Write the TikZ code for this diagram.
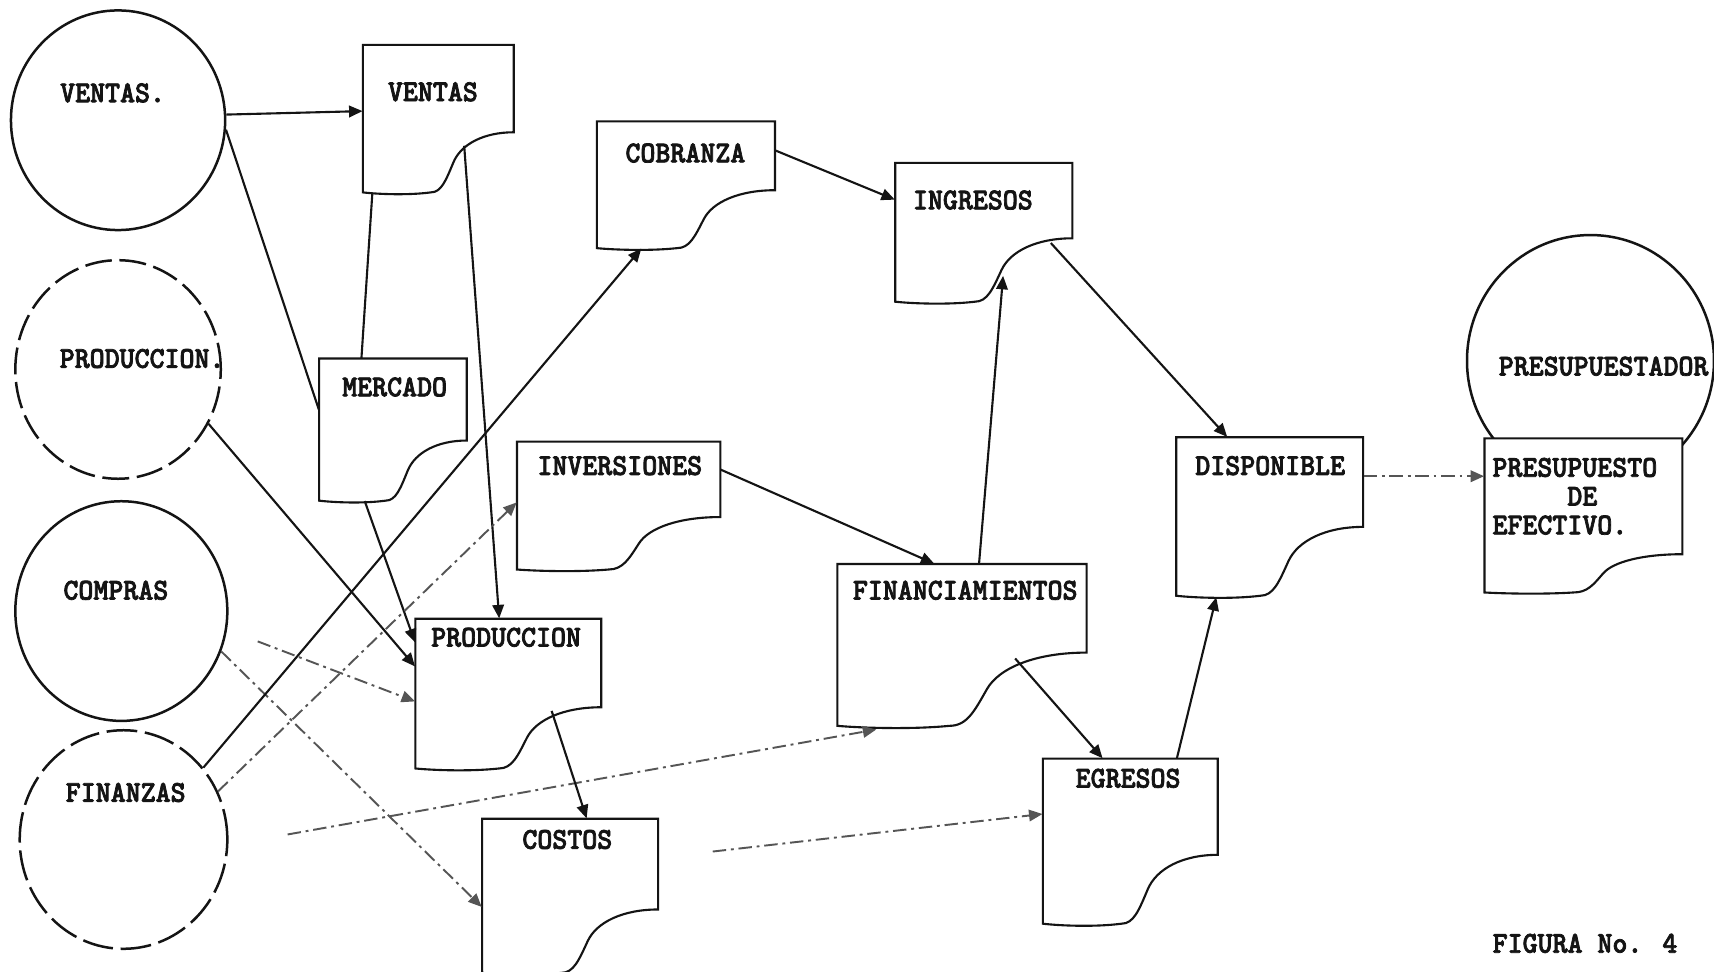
\documentclass[tikz,border=0pt]{standalone}
\usepackage{fontspec}
\newfontfamily\twfont{lmmonolt10-bold.otf}[FakeBold=2.4, FakeStretch=0.94]
\usepackage{tikz}
\usetikzlibrary{shapes.geometric, arrows.meta, positioning, calc, fit}
\definecolor{ink}{RGB}{20,20,20}
\definecolor{faint}{RGB}{85,85,85}
\tikzset{
  unit/.style={ellipse, draw=ink, line width=1.3pt, inner sep=0pt},
  docbox/.style={inner sep=0pt, draw=none},
  docline/.style={draw=ink, line width=1.1pt, fill=white},
  lbl/.style={font=\twfont\fontsize{15.8}{15}\selectfont, text=ink, inner sep=0pt},
  fa/.style={-{Triangle[length=7pt, width=6pt]}, line width=1.1pt, color=ink},
  la/.style={line width=1.1pt, color=ink},
  da/.style={-{Triangle[length=7pt, width=6pt]}, line width=1pt, color=faint,
    dash pattern=on 7pt off 2.5pt on 1.5pt off 2.5pt},
}
% document symbol: name, left, top, right, right-bottom, bottom
\newcommand{\docu}[6]{%
  \draw[docline] (#2,#6) -- (#2,#3) -- (#4,#3) -- (#4,#5)
    .. controls ({#2+0.8*(#4-#2)},#5) and ({#2+0.65*(#4-#2)},{#5+0.2*(#6-#5)}) ..
    ({#2+0.6*(#4-#2)},{#5+0.5*(#6-#5)})
    .. controls ({#2+0.55*(#4-#2)},{#5+0.8*(#6-#5)}) and ({#2+0.52*(#4-#2)},#6) ..
    ({#2+0.45*(#4-#2)},#6)
    .. controls ({#2+0.3*(#4-#2)},{#6+0.05*(#6-#5)}) and ({#2+0.1*(#4-#2)},{#6+0.03*(#6-#5)}) ..
    (#2,#6) -- cycle;
  \node[docbox, fit={(#2,#3) (#4,#6)}] (#1) {};
}

\begin{document}
\begin{tikzpicture}[x=0.02cm, y=-0.02cm]
  \fill[white] (0,0) rectangle (1568,889);
  \useasboundingbox (0,0) rectangle (1568,889);

  % areas
  \node[unit, minimum width=3.92cm, minimum height=4.02cm] (cven) at (108,110) {};
  \node[unit, minimum width=3.76cm, minimum height=4.0cm, dash pattern=on 14pt off 4pt] (cprod) at (108,338) {};
  \node[unit, minimum width=3.88cm, minimum height=4.02cm] (ccomp) at (111,559) {};
  \node[unit, minimum width=3.8cm, minimum height=4.0cm, dash pattern=on 16pt off 4pt] (cfin) at (113,768) {};
  \node[unit, minimum width=4.52cm, minimum height=4.6cm] (cpre) at (1455,330) {};

  % documents
  \docu{dven}{332}{41}{470}{121}{176}
  \docu{dmer}{292}{328}{427}{403}{458}
  \docu{dcob}{546}{111}{709}{174}{227}
  \docu{ding}{819}{149}{981}{218}{276}
  \docu{dinv}{473}{404}{659}{473}{521}
  \docu{dpro}{380}{566}{550}{647}{703}
  \docu{dfin}{766}{516}{994}{597}{664}
  \docu{dcos}{441}{749}{602}{832}{890}
  \docu{degr}{954}{694}{1114}{782}{845}
  \docu{ddis}{1076}{400}{1247}{482}{545}
  \docu{dpre}{1358}{401}{1539}{507}{542}

  % flows
  \draw[fa] (cven.3) -- ($(dven.north west)+(0,61)$);
  \draw[la] (cven.-5) -- ($(dmer.north west)+(0,47)$);
  \draw[la] ($(dven.south west)+(9,0)$) -- ($(dmer.north west)+(39,0)$);
  \draw[fa] ($(dven.south west)+(93,-43)$) -- ($(dpro.north west)+(77,0)$);
  \draw[fa] ($(dmer.south west)+(42,0)$) -- ($(dpro.north west)+(0,22)$);
  \draw[fa] (cprod.-31) -- ($(dpro.north west)+(0,44)$);
  \draw[da, shorten <=0.6cm] (ccomp.-10) -- ($(dpro.north west)+(0,76)$);
  \draw[da] (ccomp.-22) -- ($(dcos.north west)+(0,81)$);
  \draw[fa] (cfin.42) -- ($(dcob.south west)+(41,0)$);
  \draw[da] (cfin.27) -- ($(dinv.north west)+(0,56)$);
  \draw[da, shorten <=1.1cm] (cfin.-3) -- ($(dfin.south west)+(36,3)$);
  \draw[fa] ($(dcob.north east)+(0,27)$) -- ($(ding.north west)+(0,34)$);
  \draw[fa] ($(dfin.north west)+(130,0)$) -- ($(ding.south west)+(99,-24)$);
  \draw[fa] ($(ding.south east)+(-20,-54)$) -- ($(ddis.north west)+(47,0)$);
  \draw[fa] ($(dinv.north east)+(0,26)$) -- ($(dfin.north west)+(89,0)$);
  \draw[fa] ($(dfin.south west)+(163,-62)$) -- ($(degr.north west)+(55,0)$);
  \draw[fa] ($(degr.north west)+(123,0)$) -- ($(ddis.south west)+(37,1)$);
  \draw[fa] ($(dpro.south west)+(125,-53)$) -- ($(dcos.north west)+(96,0)$);
  \draw[da, shorten <=1.0cm] ($(dcos.north east)+(0,36)$) -- ($(degr.north west)+(0,51)$);
  \draw[da] ($(ddis.north east)+(0,36)$) -- ($(dpre.north west)+(0,35)$);

  % labels
  \node[lbl] (tven)  at (103,85)   {VENTAS.};
  \node[lbl] (tprod) at (130,328)  {PRODUCCION.};
  \node[lbl] (tcomp) at (106,540)  {COMPRAS};
  \node[lbl] (tfin)  at (115,725)  {FINANZAS};
  \node[lbl] (tpre)  at (1467,335) {PRESUPUESTADOR};
  \node[lbl] (lven)  at (396,84)   {VENTAS};
  \node[lbl] (lmer)  at (361,354)  {MERCADO};
  \node[lbl] (lcob)  at (627,140)  {COBRANZA};
  \node[lbl] (ling)  at (890,183)  {INGRESOS};
  \node[lbl] (linv)  at (567,426)  {INVERSIONES};
  \node[lbl] (lpro)  at (463,583)  {PRODUCCION};
  \node[lbl] (lfin)  at (883,540)  {FINANCIAMIENTOS};
  \node[lbl] (lcos)  at (519,768)  {COSTOS};
  \node[lbl] (legr)  at (1032,712) {EGRESOS};
  \node[lbl] (ldis)  at (1162,426) {DISPONIBLE};
  \node[lbl, align=left, anchor=west] (lpre) at (1365,454)
        {PRESUPUESTO\\\phantom{PRESU}DE\\EFECTIVO.};
  \node[lbl] (fig)   at (1450,863) {FIGURA No. 4};
\end{tikzpicture}
\end{document}
